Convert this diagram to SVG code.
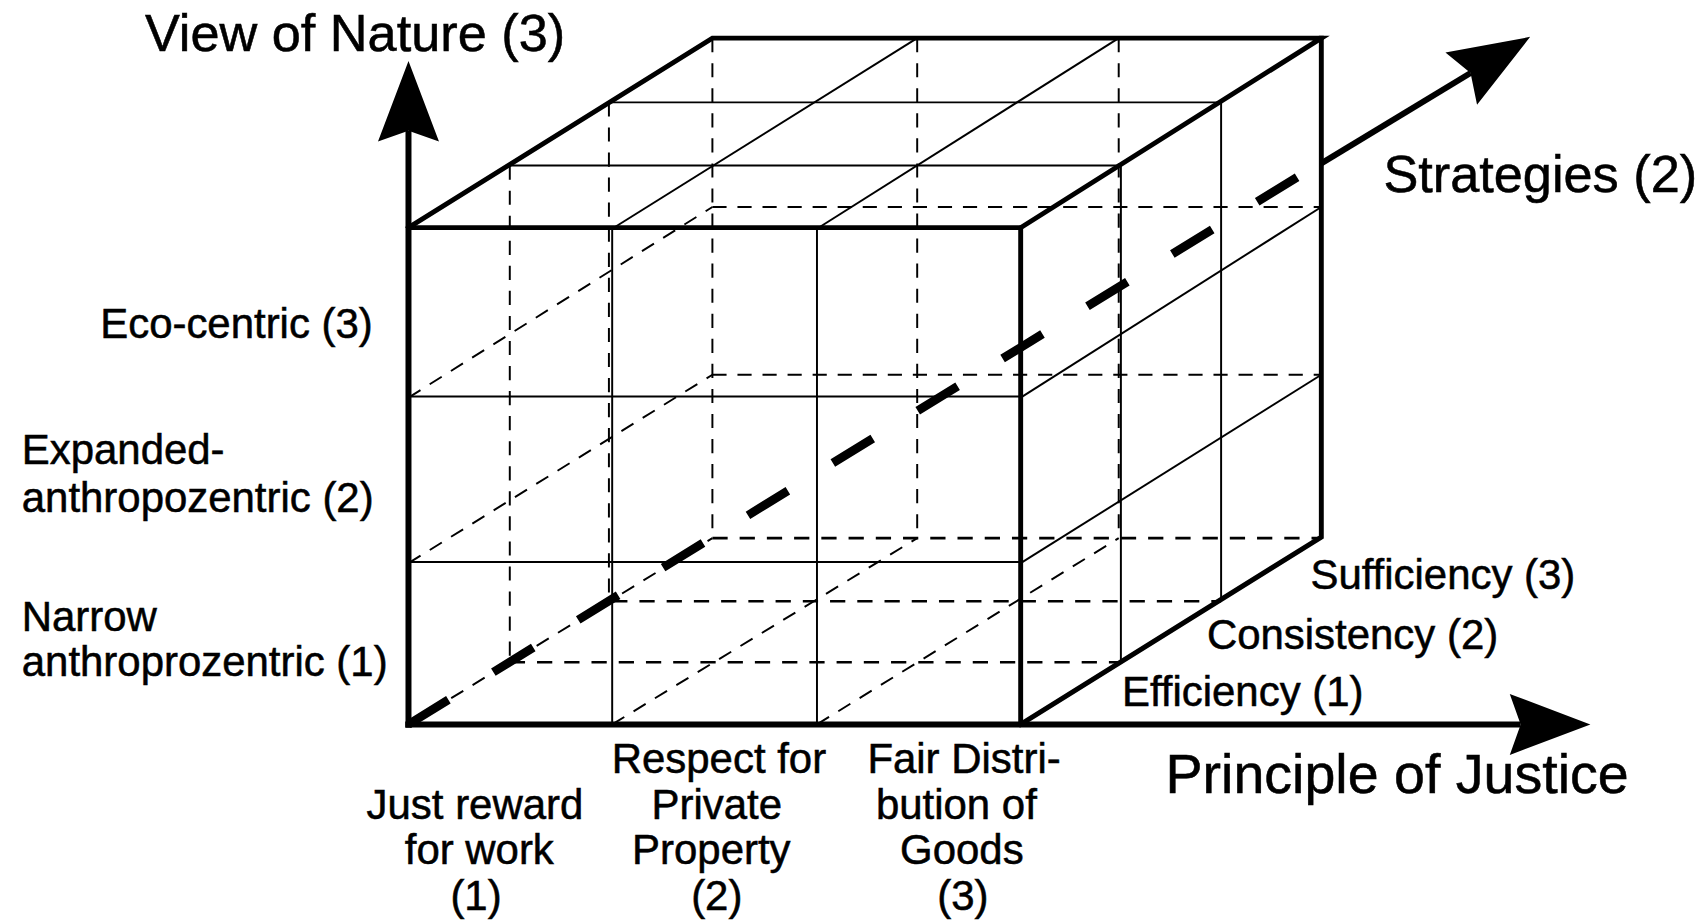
<svg xmlns="http://www.w3.org/2000/svg" width="1707" height="921" viewBox="0 0 1707 921">
<style>
.thick{stroke:#000;stroke-width:4.5;fill:none;stroke-linecap:square;stroke-linejoin:miter}
.thin{stroke:#000;stroke-width:1.8;fill:none}
.dash{stroke:#000;stroke-width:1.8;fill:none;stroke-dasharray:13 10}
.dashb{stroke:#000;stroke-width:2.4;fill:none;stroke-dasharray:14 11}
.axis{stroke:#000;stroke-width:5.5;fill:none}
.strat{stroke:#000;stroke-width:8;fill:none;stroke-dasharray:43 48.5}
text{font-family:"Liberation Sans",Arial,Helvetica,sans-serif;fill:#000;stroke:#000;stroke-width:0.5}
.title{font-size:48px}
.lab{font-size:38.5px}
.mid{text-anchor:middle}
</style>
<defs>
<marker id="ah" viewBox="-12 -30 78 60" refX="0" refY="0" markerWidth="78" markerHeight="60" markerUnits="userSpaceOnUse" orient="auto">
<path d="M64,0 L-10,-28 L0,0 L-10,28 Z" fill="#000"/>
</marker>
</defs>
<rect width="1707" height="921" fill="#fff"/>
<g transform="scale(1.0893)">
<g id="cube">
<g id="hidden">
<line class="dash" x1="654" y1="35" x2="654" y2="493"/>
<line class="dash" x1="842" y1="35" x2="842" y2="493"/>
<line class="dash" x1="1027" y1="35" x2="1027" y2="493"/>
<line class="dash" x1="468" y1="152" x2="468" y2="608"/>
<line class="dash" x1="559" y1="94" x2="559" y2="552"/>
<line class="dash" x1="654" y1="190" x2="1213" y2="190"/>
<line class="dash" x1="654" y1="344" x2="1213" y2="344"/>
<line class="dashb" x1="654" y1="494" x2="1213" y2="494"/>
<line class="dashb" x1="562" y1="552" x2="1121" y2="552"/>
<line class="dashb" x1="468" y1="608" x2="1029" y2="608"/>
<line class="dash" x1="375" y1="365" x2="654" y2="190"/>
<line class="dash" x1="375" y1="517" x2="654" y2="344"/>
<line class="dash" x1="375" y1="665" x2="654" y2="494"/>
<line class="dash" x1="562" y1="665" x2="842" y2="494"/>
<line class="dash" x1="750" y1="665" x2="1027" y2="494"/>
</g>
<g id="top-face">
<line class="thin" x1="468" y1="152" x2="1029" y2="152"/>
<line class="thin" x1="559" y1="94" x2="1121" y2="94"/>
<line class="thin" x1="562" y1="210" x2="842" y2="35"/>
<line class="thin" x1="750" y1="210" x2="1027" y2="35"/>
</g>
<g id="right-face">
<line class="thin" x1="1029" y1="152" x2="1029" y2="608"/>
<line class="thin" x1="1121" y1="94" x2="1121" y2="551"/>
<line class="thin" x1="937" y1="365" x2="1213" y2="190"/>
<line class="thin" x1="937" y1="517" x2="1213" y2="344"/>
</g>
<g id="front-face">
<line class="thin" x1="562" y1="210" x2="562" y2="665"/>
<line class="thin" x1="750" y1="210" x2="750" y2="665"/>
<line class="thin" x1="375" y1="364" x2="937" y2="364"/>
<line class="thin" x1="375" y1="516" x2="937" y2="516"/>
</g>
<g id="edges">
<path class="thick" d="M375,209 L937,209 L937,665"/>
<path class="thick" d="M375,209 L654,35 L1213,35 L937,209"/>
<path class="thick" d="M1213,35 L1213,493 L937,665"/>
</g>
</g>
<g id="connectors">
<line class="axis" x1="375" y1="668" x2="375" y2="120" marker-end="url(#ah)"/>
<line class="axis" x1="372" y1="665" x2="1396" y2="665" marker-end="url(#ah)"/>
<line class="strat" x1="375" y1="665" x2="1213" y2="149"/>
<line class="axis" x1="1213" y1="150" x2="1350" y2="67" marker-end="url(#ah)"/>
</g>
<g id="axis-labels">
<text class="title" x="133" y="47">View of Nature (3)</text>
<text class="title" x="1270" y="176">Strategies (2)</text>
<text class="title" x="1070" y="728" style="font-size:51px">Principle of Justice</text>
</g>
<g id="nature-labels">
<text class="lab" x="92" y="310">Eco-centric (3)</text>
<text class="lab" x="20" y="426">Expanded-</text>
<text class="lab" x="20" y="470">anthropozentric (2)</text>
<text class="lab" x="20" y="579">Narrow</text>
<text class="lab" x="20" y="621">anthroprozentric (1)</text>
</g>
<g id="justice-labels">
<text class="lab mid" x="436" y="752">Just reward</text>
<text class="lab mid" x="440" y="793">for work</text>
<text class="lab mid" x="437" y="835">(1)</text>
<text class="lab mid" x="660" y="710">Respect for</text>
<text class="lab mid" x="658" y="752">Private</text>
<text class="lab mid" x="653" y="793">Property</text>
<text class="lab mid" x="658" y="835">(2)</text>
<text class="lab mid" x="885" y="710">Fair Distri-</text>
<text class="lab mid" x="878" y="752">bution of</text>
<text class="lab mid" x="883" y="793">Goods</text>
<text class="lab mid" x="884" y="835">(3)</text>
</g>
<g id="strategy-labels">
<text class="lab" x="1203" y="541">Sufficiency (3)</text>
<text class="lab" x="1108" y="596">Consistency (2)</text>
<text class="lab" x="1030" y="648">Efficiency (1)</text>
</g>
</g>
</svg>
